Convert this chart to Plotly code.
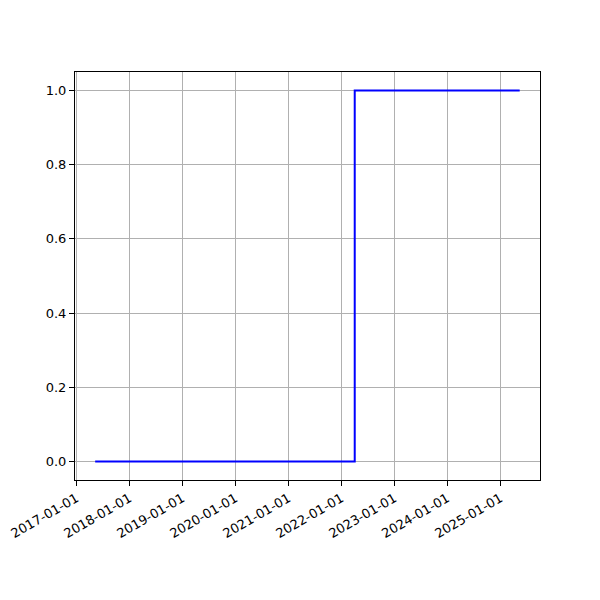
import plotly.graph_objects as go

dates = ["2017-05-10", "2022-04-03", "2025-05-14"]
values = [0, 1, 1]
tick_dates = [f"{y}-01-01" for y in range(2017, 2026)]
y_ticks = [0.0, 0.2, 0.4, 0.6, 0.8, 1.0]

fig = go.Figure()
fig.add_trace(go.Scatter(x=dates, y=values, mode="lines", line_shape="hv",
                         line=dict(color="blue", width=2)))

font = dict(family="DejaVu Sans", size=13, color="black")
fig.update_layout(
    width=600, height=600,
    margin=dict(l=67, r=68, t=64, b=128),
    plot_bgcolor="white", paper_bgcolor="white",
    showlegend=False, font=font,
)
fig.update_xaxes(
    type="date", range=["2016-12-22", "2025-10-01"],
    tickvals=tick_dates, ticktext=tick_dates, tickangle=-30,
    showgrid=True, gridcolor="#b0b0b0", gridwidth=1,
    showline=True, linecolor="black", linewidth=1, mirror=True,
    ticks="outside", ticklen=5, tickcolor="black", zeroline=False,
    automargin=False,
)
fig.update_yaxes(
    range=[-0.05, 1.05], tickvals=y_ticks, tickformat=".1f",
    showgrid=True, gridcolor="#b0b0b0", gridwidth=1,
    showline=True, linecolor="black", linewidth=1, mirror=True,
    ticks="outside", ticklen=5, tickcolor="black", zeroline=False,
    automargin=False,
)
fig.write_html("out.html")
